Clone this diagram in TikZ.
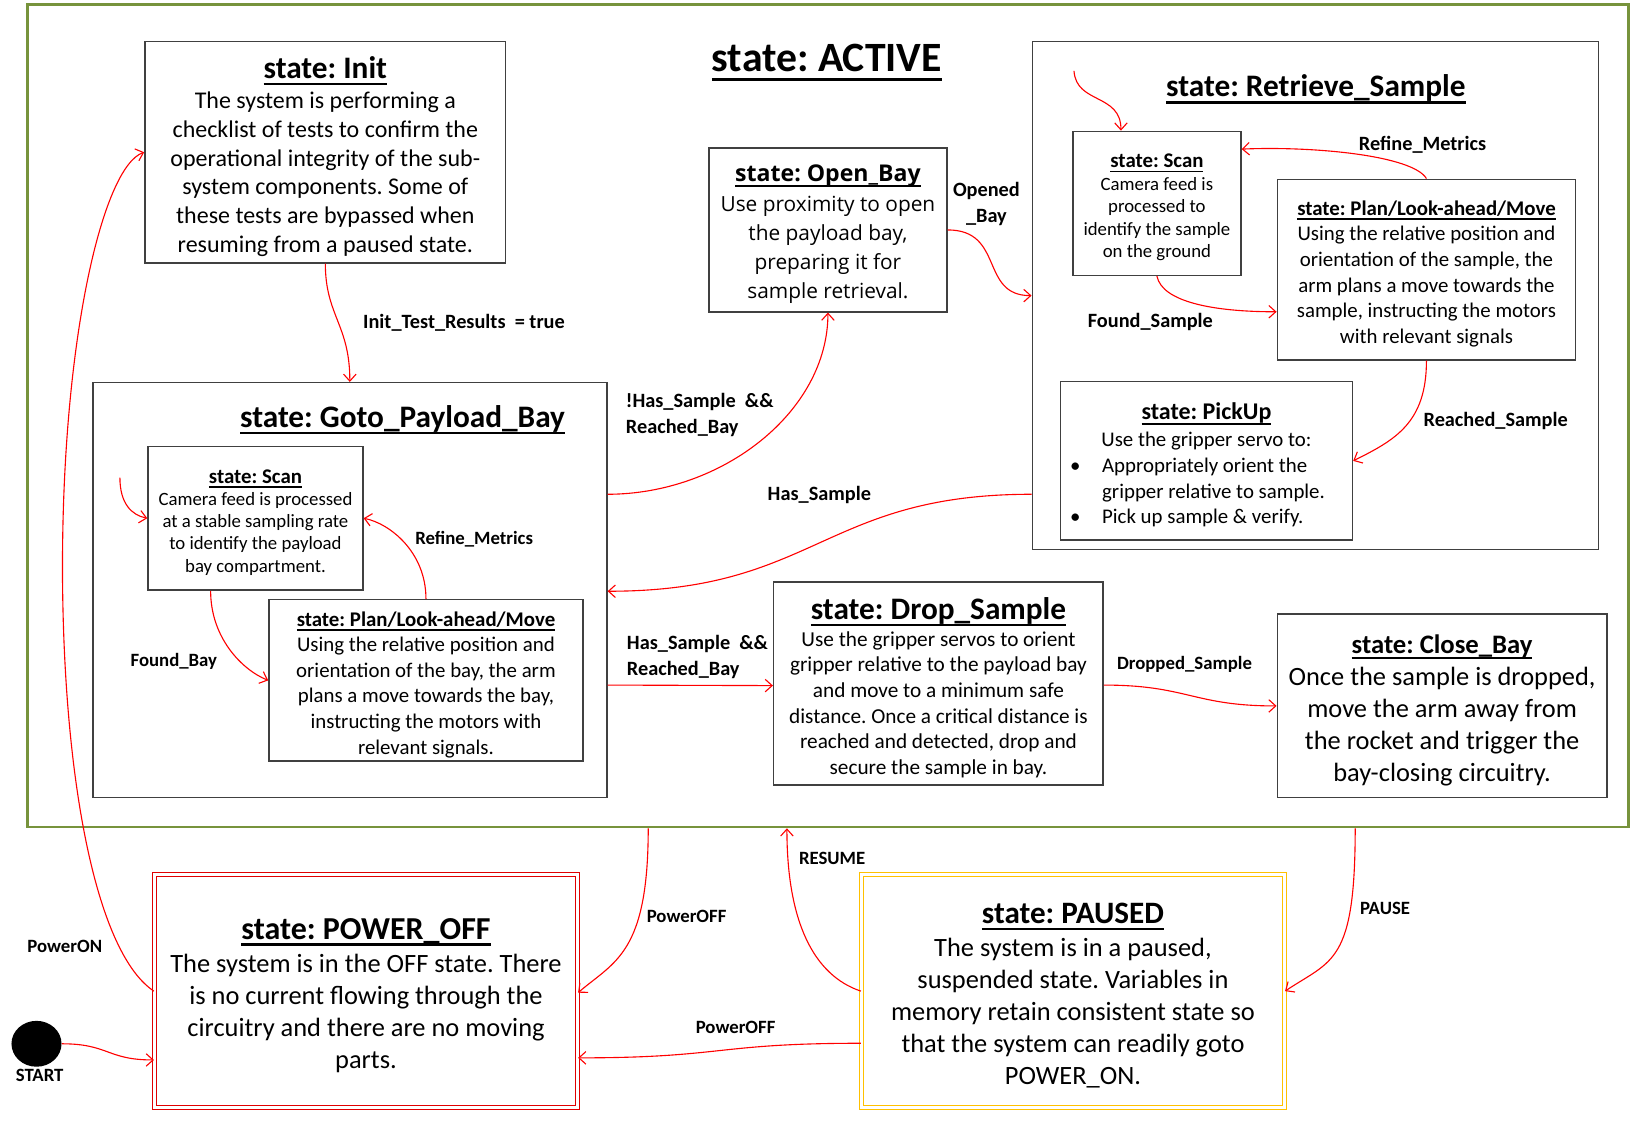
\documentclass[tikz,border=0pt]{standalone}
\usepackage{fontspec}
\setmainfont{Carlito}
\newfontfamily\osans{Open Sans}
\usetikzlibrary{arrows.meta,calc,shapes.geometric}
\definecolor{actgreen}{HTML}{77933C}
\definecolor{boxgray}{HTML}{404040}
\definecolor{paugold}{HTML}{FFC000}
\definecolor{offred}{HTML}{E00000}
\frenchspacing
\newcommand\titul[1]{\setbox0=\hbox{#1}\rlap{\rule[-0.22em]{\wd0}{0.085em}}\box0}
\newcommand\boxtitle[1]{\setbox2=\hbox{\titul{#1}}\rule{0pt}{\dimexpr\ht2+6pt\relax}\box2}
\newcommand\fsz[2]{\fontsize{#1pt}{#2pt}\selectfont}
\begin{document}
\begin{tikzpicture}[x=0.75pt,y=-0.75pt,
  state/.style={draw=boxgray,line width=1.1pt,fill=white,align=center,inner sep=0pt},
  rect/.style n args={4}{at={({(#1+#3)/2},{(#2+#4)/2})},minimum width={(#3-#1)*0.75pt},minimum height={(#4-#2)*0.75pt}},
  trans/.style={draw=red,line width=0.8pt,-{Straight Barb[length=5pt,width=9pt]}},
  lab/.style={font=\bfseries\fsz{14.6}{18.8},anchor=west,inner sep=0pt,align=left},
  labs/.style={font=\bfseries\fsz{13.5}{17},anchor=west,inner sep=0pt},
  ttl/.style={anchor=base,inner sep=0pt}
]
\path[use as bounding box,fill=white] (0,0) rectangle (1568,1075);

% ---------- ACTIVE frame ----------
\node[draw=actgreen,line width=2pt,rect={26}{4}{1562}{793}] (active) {};
\node[ttl,font=\bfseries\fsz{30}{36}] (tactive) at (793,69) {\titul{state: ACTIVE}};

% ---------- Init ----------
\node[state,rect={139}{40}{485}{252},font=\fsz{17.25}{20.7}] (init)
 {{\bfseries\fsz{22.5}{27}\boxtitle{state: Init}}\\[1pt]
  The system is performing a\\
  checklist of tests to confirm the\\
  operational integrity of the sub-\\
  system components. Some of\\
  these tests are bypassed when\\
  resuming from a paused state.};

% ---------- Open_Bay ----------
\node[state,rect={680}{142}{908}{299},font=\osans\fsz{15}{20.8}] (openbay)
 {{\bfseries\fsz{16.6}{20}\boxtitle{state: Open\_Bay}}\\[1pt]
  Use proximity to open\\
  the payload bay,\\
  preparing it for\\
  sample retrieval.};

% ---------- Retrieve_Sample ----------
\node[state,rect={990}{40}{1533}{527}] (retrieve) {};
\node[ttl,font=\bfseries\fsz{22.5}{27}] (tretrieve) at (1262,93) {\titul{state: Retrieve\_Sample}};
\node[state,rect={1029}{126}{1190}{264},font=\fsz{13.5}{16.2}] (rscan)
 {{\bfseries\fsz{15}{18}\boxtitle{state: Scan}}\\
  Camera feed is\\
  processed to\\
  identify the sample\\
  on the ground};
\node[state,rect={1225}{172}{1511}{345},font=\fsz{15}{18.4}] (rplan)
 {{\bfseries\fsz{15}{18}\boxtitle{state: Plan/Look-ahead/Move}}\\
  Using the relative position and\\
  orientation of the sample, the\\
  arm plans a move towards the\\
  sample, instructing the motors\\
  with relevant signals};
\node[state,rect={1017}{366}{1297}{518},font=\fsz{15}{18.4}] (pickup)
 {{\bfseries\fsz{17.25}{20}\boxtitle{state: PickUp}}\\[1pt]
  Use the gripper servo to:\\
  \makebox[196pt][l]{\makebox[23pt][l]{\textbullet}Appropriately orient the}\\
  \makebox[196pt][l]{\hspace{23pt}gripper relative to sample.}\\
  \makebox[196pt][l]{\makebox[23pt][l]{\textbullet}Pick up sample \& verify.}};

% ---------- Goto_Payload_Bay ----------
\node[state,rect={89}{367}{582}{765}] (goto) {};
\node[ttl,font=\bfseries\fsz{22.5}{27}] (tgoto) at (386,410) {\titul{state: Goto\_Payload\_Bay}};
\node[state,rect={142}{428}{348}{566},font=\fsz{13.5}{16}] (gscan)
 {{\bfseries\fsz{15}{18}\boxtitle{state: Scan}}\\
  Camera feed is processed\\
  at a stable sampling rate\\
  to identify the payload\\
  bay compartment.};
\node[state,rect={258}{575}{559}{730},font=\fsz{15}{18.4}] (gplan)
 {{\bfseries\fsz{15}{18}\boxtitle{state: Plan/Look-ahead/Move}}\\
  Using the relative position and\\
  orientation of the bay, the arm\\
  plans a move towards the bay,\\
  instructing the motors with\\
  relevant signals.};

% ---------- Drop / Close ----------
\node[state,rect={742}{558}{1058}{753},font=\fsz{15.3}{18.45}] (drop)
 {{\bfseries\fsz{22.5}{27}\boxtitle{state: Drop\_Sample}}\\[1pt]
  Use the gripper servos to orient\\
  gripper relative to the payload bay\\
  and move to a minimum safe\\
  distance. Once a critical distance is\\
  reached and detected, drop and\\
  secure the sample in bay.};
\node[state,rect={1225}{589}{1541}{765},font=\fsz{19}{23}] (close)
 {{\bfseries\fsz{19.2}{23}\boxtitle{state: Close\_Bay}}\\
  Once the sample is dropped,\\
  move the arm away from\\
  the rocket and trigger the\\
  bay-closing circuitry.};

% ---------- POWER_OFF / PAUSED ----------
\node[state,draw=offred,line width=0.6pt,double=white,double distance=2.2pt,rect={148}{839}{554}{1062},font=\fsz{19}{23}] (poweroff)
 {{\bfseries\fsz{23}{27}\boxtitle{state: POWER\_OFF}}\\[1pt]
  The system is in the OFF state. There\\
  is no current flowing through the\\
  circuitry and there are no moving\\
  parts.};
\node[state,draw=paugold,line width=0.6pt,double=white,double distance=2.2pt,rect={826}{839}{1232}{1062},font=\fsz{19}{22.9}] (paused)
 {{\bfseries\fsz{22.4}{27}\boxtitle{state: PAUSED}}\\[1pt]
  The system is in a paused,\\
  suspended state. Variables in\\
  memory retain consistent state so\\
  that the system can readily goto\\
  POWER\_ON.};

\node[ellipse,fill=black,inner sep=0pt,minimum width={48*0.75pt},minimum height={44*0.75pt}] (start) at (35,1001) {};

% ---------- connectors ----------
\coordinate (rin) at (1030,68);
\coordinate (gin) at (115,458);
\coordinate (pwrmid) at (60,560);
\draw[trans] (init.south) .. controls +(0,50) and +(0,-55) .. (goto.north);
\draw[trans] ($(goto.east)+(0,-92)$) .. controls +(110,0) and +(0,95) .. (openbay.south);
\draw[trans] (openbay.east) .. controls +(55,0) and +(-50,0) .. (retrieve.west);
\draw[trans] ($(retrieve.west)+(0,190.5)$) .. controls +(-200,0) and +(200,0) .. ($(goto.east)+(0,1)$);
\draw[trans] ($(goto.east)+(0,91)$) -- ($(drop.west)+(0,2)$);
\draw[trans] ($(drop.east)+(0,1.5)$) .. controls +(80,0) and +(-80,0) .. (close.west);
\draw[trans] (rin) .. controls +(2,32) and +(0,-36) .. ($(rscan.north)+(-34.5,0)$);
\draw[trans] (rplan.north) .. controls +(-13,-22) and +(70,-3) .. ($(rscan.east)+(0,-52)$);
\draw[trans] (rscan.south) .. controls +(5,25) and +(-60,0) .. ($(rplan.west)+(0,40.5)$);
\draw[trans] (rplan.south) .. controls +(0,60) and +(40,-20) .. (pickup.east);
\draw[trans] (gin) .. controls +(0,25) and +(-15,-3) .. (gscan.west);
\draw[trans] (gplan.north) .. controls +(0,-45) and +(25,5) .. (gscan.east);
\draw[trans] ($(gscan.south)+(-43,0)$) .. controls +(0,45) and +(-25,-10) .. (gplan.west);
\draw[trans] ($(active.south west)+(597,0)$) .. controls +(0,120) and +(35,-30) .. ($(poweroff.east)+(0,1.5)$);
\draw[trans] (paused.west) .. controls +(-45,-15) and +(0,90) .. ($(active.south west)+(730,0)$);
\draw[trans] ($(active.south west)+(1275,0)$) .. controls +(0,130) and +(45,-30) .. (paused.east);
\draw[trans] ($(paused.west)+(0,50)$) .. controls +(-140,0) and +(140,0) .. ($(poweroff.east)+(0,64)$);
\draw[trans] (poweroff.west) .. controls +(-53,-35) and +(2,200) .. (pwrmid) .. controls +(-2,-230) and +(-40,14) .. (init.west);
\draw[trans] (start.east) .. controls +(45,0) and +(-45,0) .. ($(poweroff.west)+(0,66)$);

% ---------- labels ----------
\node[lab] (l1) at (348,310) {Init\_Test\_Results\ \ = true};
\node[lab,align=center,anchor=center] (l2) at (946,196) {Opened\\\_Bay};
\node[lab] (l3) at (600,398) {!Has\_Sample\ \ \&\&\\Reached\_Bay};
\node[lab] (l4) at (736,475) {Has\_Sample};
\node[lab] (l5) at (1303,139) {Refine\_Metrics};
\node[lab] (l6) at (1043,309) {Found\_Sample};
\node[lab] (l7) at (1365,404) {Reached\_Sample};
\node[labs] (l8) at (398,517) {Refine\_Metrics};
\node[labs] (l9) at (125,634) {Found\_Bay};
\node[lab] (l10) at (601,630) {Has\_Sample\ \ \&\&\\Reached\_Bay};
\node[labs] (l11) at (1071,637) {Dropped\_Sample};
\node[labs] (l12) at (766,823) {RESUME};
\node[labs] (l13) at (620,879) {PowerOFF};
\node[labs] (l14) at (1304,871) {PAUSE};
\node[labs] (l15) at (26,908) {PowerON};
\node[labs] (l16) at (667,985) {PowerOFF};
\node[labs] (l17) at (15,1031) {START};
\end{tikzpicture}
\end{document}
